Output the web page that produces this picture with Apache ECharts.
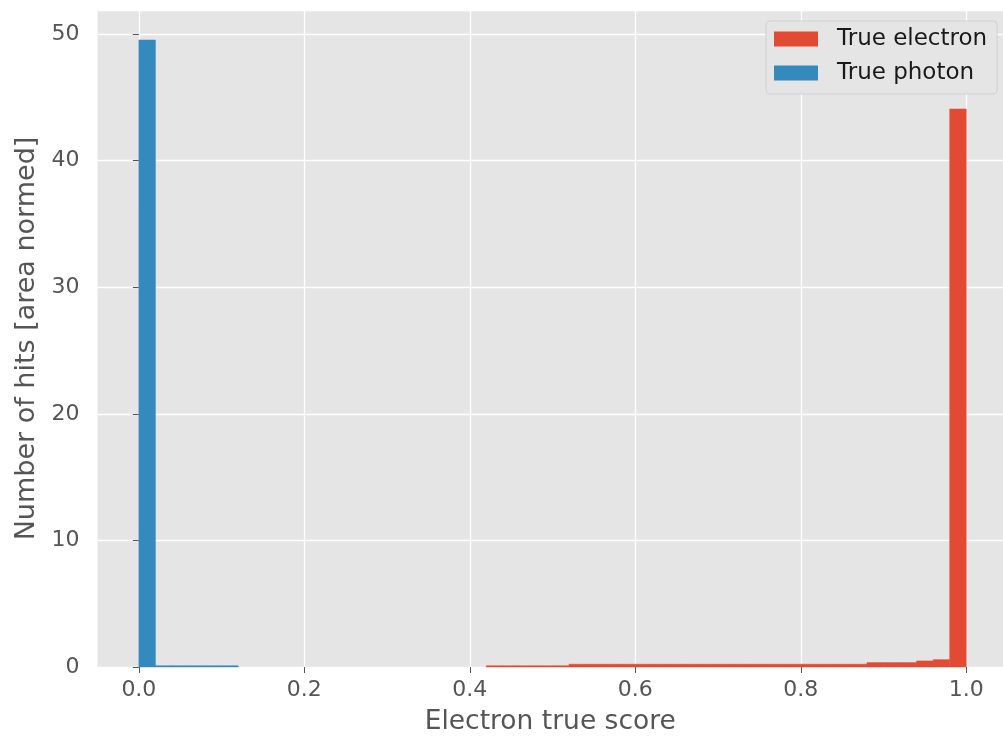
<!DOCTYPE html>
<html>
<head>
<meta charset="utf-8">
<script src="https://cdn.jsdelivr.net/npm/echarts@6/dist/echarts.min.js"></script>
<style>
html,body{margin:0;padding:0;background:#fff;}
#chart{width:1003px;height:741px;}
</style>
</head>
<body>
<div id="chart"></div>
<script>
// Histogram bin edges (50 bins from 0 to 1)
const binEdges = [0.00,0.02,0.04,0.06,0.08,0.10,0.12,0.14,0.16,0.18,
  0.20,0.22,0.24,0.26,0.28,0.30,0.32,0.34,0.36,0.38,
  0.40,0.42,0.44,0.46,0.48,0.50,0.52,0.54,0.56,0.58,
  0.60,0.62,0.64,0.66,0.68,0.70,0.72,0.74,0.76,0.78,
  0.80,0.82,0.84,0.86,0.88,0.90,0.92,0.94,0.96,0.98,1.00];
// Heights per bin (area normed)
const electronHeights = [0,0,0,0,0,0,0,0,0,0,
  0,0,0,0,0,0,0,0,0,0,
  0,0.1,0.1,0.1,0.1,0.1,0.22,0.22,0.22,0.22,
  0.22,0.22,0.22,0.22,0.22,0.22,0.22,0.22,0.22,0.22,
  0.22,0.22,0.22,0.22,0.35,0.35,0.35,0.48,0.58,44.08];
const photonHeights = [49.53,0.1,0.1,0.1,0.1,0.1,0,0,0,0,
  0,0,0,0,0,0,0,0,0,0,
  0,0,0,0,0,0,0,0,0,0,
  0,0,0,0,0,0,0,0,0,0,
  0,0,0,0,0,0,0,0,0,0];
const xTicks = [0.0,0.2,0.4,0.6,0.8,1.0];
const seriesNames = ['True electron','True photon'];
const seriesColors = ['#E24A33','#348ABD'];

function toBins(h){
  const out = [];
  for (let i = 0; i < h.length; i++) {
    if (h[i] > 0) out.push([binEdges[i], binEdges[i+1], h[i]]);
  }
  return out;
}
function makeRender(color){
  return function(params, api){
    const p0 = api.coord([api.value(0), 0]);
    const p1 = api.coord([api.value(1), api.value(2)]);
    return {
      type:'rect',
      shape:{x:p0[0], y:p1[1], width:p1[0]-p0[0], height:p0[1]-p1[1]},
      style:{fill:color, stroke:color, lineWidth:0.5}
    };
  };
}
const FONT = 'DejaVu Sans';
const chart = echarts.init(document.getElementById('chart'), null, {renderer:'canvas'});
chart.setOption({
  animation:false,
  backgroundColor:'#ffffff',
  grid:{left:97.5, right:0, top:10, bottom:74, backgroundColor:'#E5E5E5', show:true, borderWidth:0},
  legend:{
    orient:'vertical', left:766, top:21,
    data:seriesNames.map(n=>({name:n, icon:'rect'})),
    itemWidth:44, itemHeight:15, itemGap:8,
    padding:[5,10,8,8],
    backgroundColor:'#E5E5E5', borderColor:'rgba(204,204,204,0.8)', borderWidth:1, borderRadius:4,
    textStyle:{fontFamily:FONT, fontSize:23, color:'#1a1a1a', lineHeight:26, padding:[0,0,0,14]}
  },
  xAxis:{
    type:'value', min:-0.05, max:1.0444,
    name:'Electron true score', nameLocation:'middle', nameGap:42,
    nameTextStyle:{fontFamily:FONT, fontSize:26.5, color:'#555555'},
    axisLine:{show:false},
    axisTick:{show:true, customValues:xTicks, length:6, lineStyle:{color:'#555555', width:1}},
    axisLabel:{customValues:xTicks, fontFamily:FONT, fontSize:22, color:'#555555', margin:12,
      formatter:v=>v.toFixed(1)},
    splitLine:{show:true, lineStyle:{color:'#ffffff', width:1.3}}
  },
  yAxis:{
    type:'value', min:0, max:51.9, interval:10,
    name:'Number of hits [area normed]', nameLocation:'middle', nameGap:56,
    nameTextStyle:{fontFamily:FONT, fontSize:27, color:'#555555'},
    axisLine:{show:false},
    axisTick:{show:true, length:6, lineStyle:{color:'#555555', width:1}},
    axisLabel:{fontFamily:FONT, fontSize:22, color:'#555555', margin:18,
      showMaxLabel:false, formatter:v=>String(Math.round(v))},
    splitLine:{show:true, lineStyle:{color:'#ffffff', width:1.3}}
  },
  series:[
    {name:seriesNames[0], type:'custom', renderItem:makeRender(seriesColors[0]), data:toBins(electronHeights),
      encode:{x:[0,1], y:2}, itemStyle:{color:seriesColors[0]}},
    {name:seriesNames[1], type:'custom', renderItem:makeRender(seriesColors[1]), data:toBins(photonHeights),
      encode:{x:[0,1], y:2}, itemStyle:{color:seriesColors[1]}}
  ]
});
</script>
</body>
</html>
